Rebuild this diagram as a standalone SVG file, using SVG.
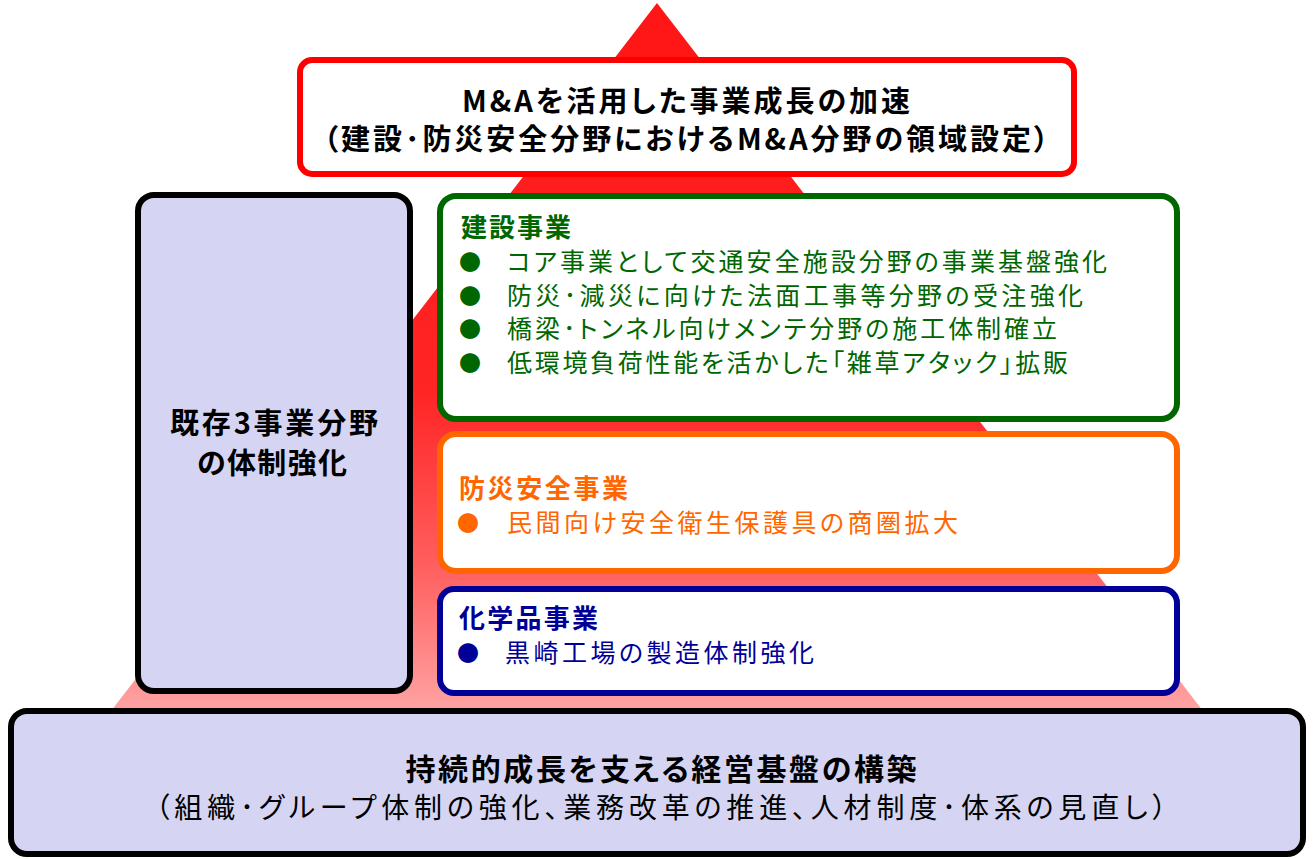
<svg xmlns="http://www.w3.org/2000/svg" width="1314" height="859" viewBox="0 0 1314 859">
<style>
text{font-family:"Noto Sans CJK JP","Noto Sans CJK SC",sans-serif;font-feature-settings:"palt";}
.w{fill:#fff;stroke-width:6;}
.lav{fill:#D5D5F3;stroke:#000;stroke-width:6;}
.hd{font-weight:bold;font-size:29px;fill:#000;text-anchor:middle;}
.t{font-weight:bold;font-size:26px;}
.b{font-size:25px;}
.dot{font-size:22px;text-anchor:middle;}
.g{fill:#006600;}
.o{fill:#FF6600;}
.n{fill:#000099;}
</style>
<defs>
<linearGradient id="tri" gradientUnits="userSpaceOnUse" x1="0" y1="3" x2="0" y2="711">
<stop offset="0" stop-color="#FF1515"/>
<stop offset="0.55" stop-color="#FF2525"/>
<stop offset="0.8" stop-color="#FF6060"/>
<stop offset="1" stop-color="#FFA3A3"/>
</linearGradient>
</defs>
<rect width="1314" height="859" fill="#fff"/>
<polygon id="pyramid" points="657,3 1203,711 111,711" fill="url(#tri)"/>
<g id="top">
<rect class="w" x="300" y="60" width="774" height="114" rx="12" stroke="#FF0000"/>
<text class="hd" x="686" y="112" textLength="448" lengthAdjust="spacing">M&amp;Aを活用した事業成長の加速</text>
<text class="hd" x="686" y="150" textLength="725" lengthAdjust="spacing">（建設･防災安全分野におけるM&amp;A分野の領域設定）</text>
</g>
<g id="left">
<rect class="lav" x="138" y="195" width="272" height="496" rx="16"/>
<text class="hd" x="274" y="434" textLength="208" lengthAdjust="spacing">既存3事業分野</text>
<text class="hd" x="272" y="474" textLength="150" lengthAdjust="spacing">の体制強化</text>
</g>
<g id="construction">
<rect class="w" x="440" y="196" width="737" height="223" rx="16" stroke="#006600"/>
<text class="t g" x="461" y="237" textLength="110" lengthAdjust="spacing">建設事業</text>
<text class="dot g" x="470" y="270">●</text>
<text class="dot g" x="470" y="304">●</text>
<text class="dot g" x="470" y="337">●</text>
<text class="dot g" x="470" y="371">●</text>
<text class="b g" x="507" y="271" textLength="600" lengthAdjust="spacing">コア事業として交通安全施設分野の事業基盤強化</text>
<text class="b g" x="507" y="305" textLength="576" lengthAdjust="spacing">防災･減災に向けた法面工事等分野の受注強化</text>
<text class="b g" x="507" y="338" textLength="550" lengthAdjust="spacing">橋梁･トンネル向けメンテ分野の施工体制確立</text>
<text class="b g" x="507" y="372" textLength="561" lengthAdjust="spacing">低環境負荷性能を活かした「雑草アタック」拡販</text>
</g>
<g id="safety">
<rect class="w" x="440" y="434" width="737" height="137" rx="16" stroke="#FF6600"/>
<text class="t o" x="459" y="498" textLength="169" lengthAdjust="spacing">防災安全事業</text>
<text class="dot o" x="468" y="531">●</text>
<text class="b o" x="507" y="532" textLength="451" lengthAdjust="spacing">民間向け安全衛生保護具の商圏拡大</text>
</g>
<g id="chemical">
<rect class="w" x="440" y="589" width="737" height="104" rx="14" stroke="#000099"/>
<text class="t n" x="459" y="628" textLength="139" lengthAdjust="spacing">化学品事業</text>
<text class="dot n" x="468" y="661">●</text>
<text class="b n" x="505" y="662" textLength="309" lengthAdjust="spacing">黒崎工場の製造体制強化</text>
</g>
<g id="base">
<rect class="lav" x="11" y="711" width="1292" height="143" rx="16"/>
<text class="hd" x="661" y="780" style="font-size:30px" textLength="511" lengthAdjust="spacing">持続的成長を支える経営基盤の構築</text>
<text x="661" y="818" style="font-size:28px;text-anchor:middle" textLength="1011" lengthAdjust="spacing">（組織･グループ体制の強化、業務改革の推進、人材制度･体系の見直し）</text>
</g>
<g id="connectors"></g>
</svg>
